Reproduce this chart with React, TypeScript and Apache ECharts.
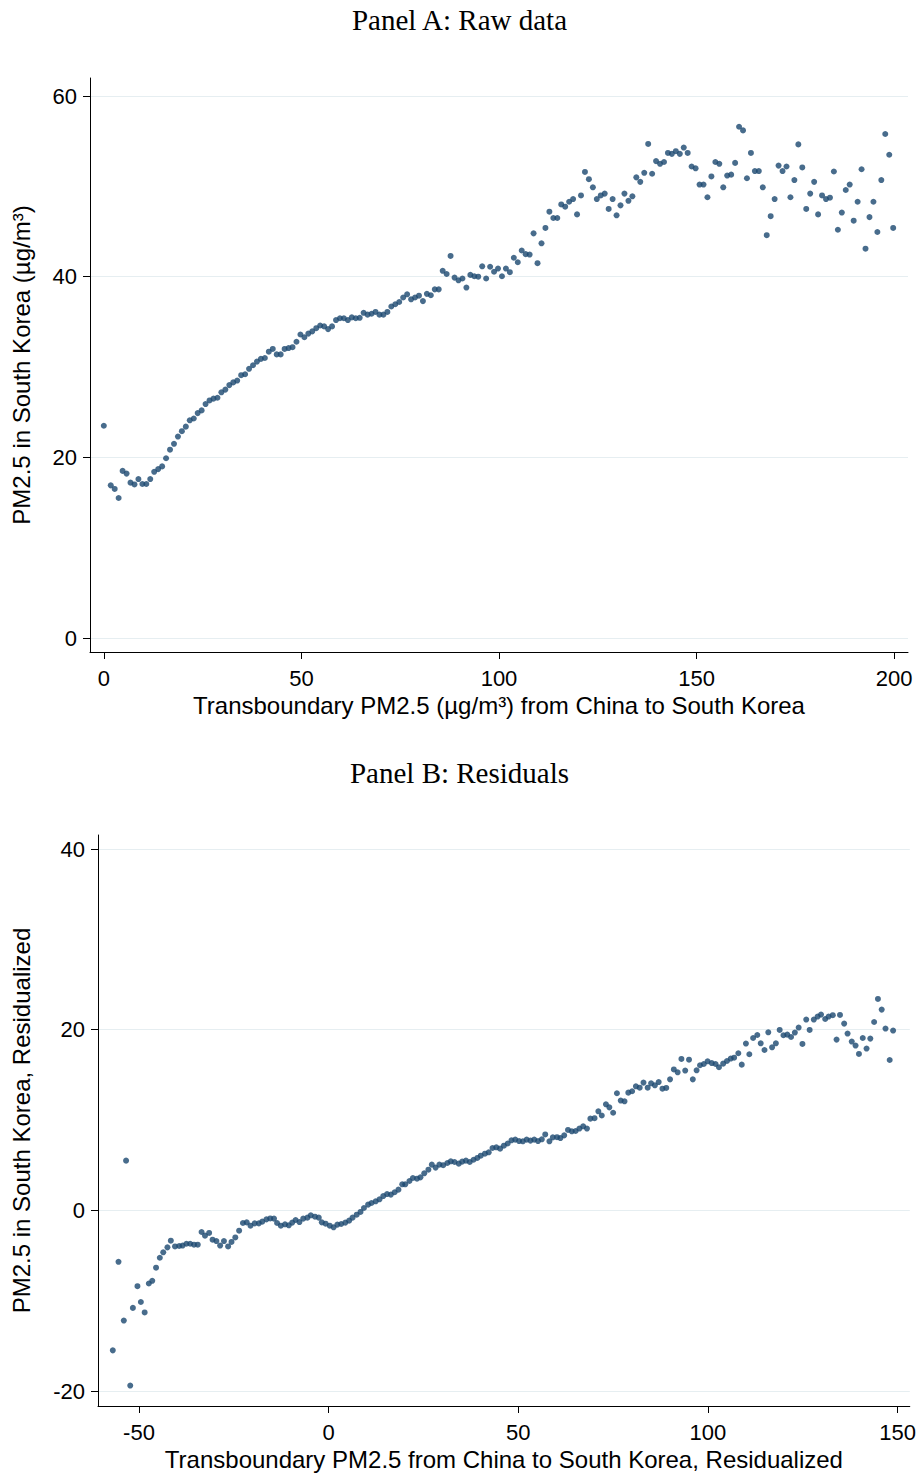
import React, { useEffect, useRef } from "react";
import * as echarts from "echarts";

// ---------- Panel A: raw data ----------
const panelAX = [
  0, 1.75, 2.75, 3.75, 4.75, 5.75, 6.75, 7.75, 8.75, 9.75, 10.75,
  11.75, 12.75, 13.75, 14.75, 15.75, 16.75, 17.75, 18.75, 19.75, 20.75,
  21.75, 22.75, 23.75, 24.75, 25.75, 26.75, 27.75, 28.75, 29.75, 30.75,
  31.75, 32.75, 33.75, 34.75, 35.75, 36.75, 37.75, 38.75, 39.75, 40.75,
  41.75, 42.75, 43.75, 44.75, 45.75, 46.75, 47.75, 48.75, 49.75, 50.75,
  51.75, 52.75, 53.75, 54.75, 55.75, 56.75, 57.75, 58.75, 59.75, 60.75,
  61.75, 62.75, 63.75, 64.75, 65.75, 66.75, 67.75, 68.75, 69.75, 70.75,
  71.75, 72.75, 73.75, 74.75, 75.75, 76.75, 77.75, 78.75, 79.75, 80.75,
  81.75, 82.75, 83.75, 84.75, 85.75, 86.75, 87.75, 88.75, 89.75, 90.75,
  91.75, 92.75, 93.75, 94.75, 95.75, 96.75, 97.75, 98.75, 99.75, 100.75,
  101.75, 102.75, 103.75, 104.75, 105.75, 106.75, 107.75, 108.75, 109.75, 110.75,
  111.75, 112.75, 113.75, 114.75, 115.75, 116.75, 117.75, 118.75, 119.75, 120.75,
  121.75, 122.75, 123.75, 124.75, 125.75, 126.75, 127.75, 128.75, 129.75, 130.75,
  131.75, 132.75, 133.75, 134.75, 135.75, 136.75, 137.75, 138.75, 139.75, 140.75,
  141.75, 142.75, 143.75, 144.75, 145.75, 146.75, 147.75, 148.75, 149.75, 150.75,
  151.75, 152.75, 153.75, 154.75, 155.75, 156.75, 157.75, 158.75, 159.75, 160.75,
  161.75, 162.75, 163.75, 164.75, 165.75, 166.75, 167.75, 168.75, 169.75, 170.75,
  171.75, 172.75, 173.75, 174.75, 175.75, 176.75, 177.75, 178.75, 179.75, 180.75,
  181.75, 182.75, 183.75, 184.75, 185.75, 186.75, 187.75, 188.75, 189.75, 190.75,
  191.75, 192.75, 193.75, 194.75, 195.75, 196.75, 197.75, 198.75, 199.75,
];
const panelAY = [
  23.5, 16.9, 16.5, 15.5, 18.5, 18.2, 17.2, 17.0, 17.6, 17.05, 17.05,
  17.6, 18.4, 18.7, 19.0, 19.9, 20.85, 21.5, 22.3, 22.9, 23.4,
  24.1, 24.3, 24.9, 25.2, 25.9, 26.3, 26.5, 26.6, 27.2, 27.5,
  28.0, 28.3, 28.5, 29.1, 29.2, 29.8, 30.2, 30.6, 30.9, 31.0,
  31.7, 32.0, 31.4, 31.4, 32.0, 32.1, 32.2, 32.8, 33.6, 33.3,
  33.7, 33.95, 34.3, 34.6, 34.5, 34.2, 34.5, 35.2, 35.4, 35.4,
  35.2, 35.5, 35.4, 35.45, 36.0, 35.8, 35.9, 36.1, 35.8, 35.8,
  36.1, 36.7, 36.95, 37.2, 37.7, 38.05, 37.5, 37.7, 37.9, 37.3,
  38.1, 37.95, 38.6, 38.6, 40.65, 40.3, 42.3, 39.9, 39.6, 39.8,
  38.8, 40.2, 40.05, 40.0, 41.15, 39.8, 41.1, 40.55, 40.9, 40.05,
  40.9, 40.5, 42.1, 41.6, 42.9, 42.5, 42.45, 44.8, 41.5, 43.7,
  45.4, 47.2, 46.5, 46.5, 48.0, 47.75, 48.3, 48.6, 46.9, 49.0,
  51.6, 50.8, 49.9, 48.6, 49.0, 49.2, 47.5, 48.6, 46.8, 47.9,
  49.2, 48.4, 48.9, 51.0, 50.5, 51.5, 54.7, 51.4, 52.8, 52.5,
  52.7, 53.7, 53.6, 53.9, 53.6, 54.3, 53.7, 52.2, 52.0, 50.2,
  50.2, 48.8, 51.1, 52.7, 52.5, 49.9, 51.2, 51.3, 52.6, 56.6,
  56.2, 50.9, 53.7, 51.7, 51.7, 49.9, 44.6, 46.7, 48.6, 52.3,
  51.7, 52.2, 48.8, 50.7, 54.65, 52.1, 47.5, 49.2, 50.5, 46.9,
  49.0, 48.6, 48.75, 51.65, 45.2, 47.1, 49.6, 50.2, 46.2, 48.3,
  51.9, 43.1, 46.6, 48.3, 44.95, 50.7, 55.8, 53.5, 45.4,
];
const panelAXTicks = [0, 50, 100, 150, 200];
const panelAYTicks = [0, 20, 40, 60];

// ---------- Panel B: residuals ----------
const panelBX = [
  -56.9, -55.4, -54.0, -53.4, -52.3, -51.6, -50.4, -49.5, -48.5, -47.4,
  -46.5, -45.5, -44.5, -43.6, -42.5, -41.6, -40.5, -39.4, -38.5, -37.5,
  -36.5, -35.5, -34.5, -33.5, -32.6, -31.5, -30.6, -29.6, -28.6, -27.6,
  -26.5, -25.6, -24.6, -23.6, -22.6, -21.6, -20.6, -19.5, -18.4, -17.5,
  -16.4, -15.4, -14.4, -13.6, -12.6, -11.5, -10.5, -9.6, -8.7, -7.7,
  -6.7, -5.6, -4.7, -3.6, -2.6, -1.8, -0.8, 0.3, 1.3, 2.3,
  3.3, 4.4, 5.4, 6.3, 7.4, 8.4, 9.3, 10.4, 11.3, 12.4,
  13.4, 14.4, 15.4, 16.4, 17.4, 18.4, 19.4, 20.2, 21.3, 22.2,
  23.3, 24.2, 25.2, 26.3, 27.2, 28.2, 29.2, 30.2, 31.3, 32.2,
  33.2, 34.3, 35.2, 36.2, 37.2, 38.2, 39.2, 40.1, 41.2, 42.2,
  43.2, 44.2, 45.2, 46.2, 47.2, 48.2, 49.2, 50.2, 51.2, 52.2,
  53.2, 54.2, 55.2, 56.2, 57.1, 58.2, 59.1, 60.2, 61.1, 62.1,
  63.1, 64.1, 65.1, 66.1, 67.1, 68.1, 69.0, 70.1, 71.1, 72.0,
  73.1, 74.0, 75.0, 76.0, 77.0, 78.0, 79.0, 80.0, 81.0, 82.0,
  83.0, 84.1, 85.0, 86.0, 87.0, 88.0, 89.0, 90.0, 91.0, 92.0,
  93.0, 94.0, 95.0, 96.0, 97.0, 97.9, 98.9, 99.9, 101.0, 102.0,
  102.9, 104.0, 105.0, 106.0, 106.9, 108.0, 108.9, 110.0, 110.9, 111.9,
  113.0, 113.9, 114.9, 115.9, 116.9, 117.9, 118.9, 119.9, 120.9, 121.9,
  122.9, 123.9, 124.9, 125.9, 126.8, 127.9, 128.9, 129.8, 130.9, 131.8,
  132.9, 133.9, 134.8, 135.9, 136.8, 137.9, 138.9, 139.8, 140.8, 141.8,
  142.8, 143.8, 144.8, 145.8, 146.8, 147.9, 148.8,
];
const panelBY = [
  -15.5, -5.7, -12.2, 5.5, -19.4, -10.8, -8.4, -10.15, -11.3, -8.1,
  -7.8, -6.35, -5.25, -4.65, -4.1, -3.36, -4.0, -3.95, -3.9, -3.7,
  -3.7, -3.8, -3.8, -2.4, -2.8, -2.5, -3.25, -3.4, -3.9, -3.4,
  -4.0, -3.5, -3.0, -2.25, -1.4, -1.33, -1.7, -1.44, -1.44, -1.25,
  -1.0, -0.9, -0.92, -1.4, -1.7, -1.55, -1.66, -1.36, -1.07, -1.3,
  -0.92, -0.81, -0.55, -0.7, -0.81, -1.33, -1.48, -1.7, -1.88, -1.58,
  -1.51, -1.36, -1.14, -0.81, -0.48, -0.18, 0.26, 0.63, 0.81, 1.0,
  1.22, 1.58, 1.8, 1.74, 2.0, 2.29, 2.88, 2.88, 3.25, 3.58,
  3.5, 3.65, 4.1, 4.5, 5.06, 4.73, 5.06, 5.0, 5.24, 5.43,
  5.35, 5.17, 5.39, 5.5, 5.35, 5.6, 5.8, 6.05, 6.27, 6.42,
  6.9, 6.98, 6.83, 7.16, 7.4, 7.75, 7.83, 7.67, 7.64, 7.83,
  7.72, 7.83, 7.67, 7.86, 8.4, 7.64, 8.08, 8.1, 8.0, 8.3,
  8.9, 8.75, 8.78, 9.05, 9.3, 9.05, 10.15, 10.2, 10.96, 10.5,
  11.74, 11.4, 10.8, 12.96, 12.15, 12.07, 13.03, 13.18, 13.73, 13.58,
  14.14, 13.58, 14.06, 13.84, 14.2, 13.47, 13.55, 14.5, 15.6, 15.28,
  16.76, 15.47, 16.68, 14.5, 15.5, 16.06, 16.2, 16.5, 16.3, 16.2,
  15.84, 16.24, 16.53, 16.8, 16.9, 17.39, 16.13, 18.46, 17.28, 19.08,
  19.41, 18.49, 17.75, 19.71, 18.05, 18.49, 19.97, 19.38, 19.45, 19.19,
  19.68, 20.23, 18.42, 21.12, 19.97, 21.12, 21.45, 21.67, 21.18, 21.45,
  21.6, 18.9, 21.63, 20.67, 19.57, 18.68, 18.24, 17.31, 19.08, 17.91,
  19.01, 20.85, 23.4, 22.22, 20.12, 16.64, 19.9,
];
const panelBXTicks = [-50, 0, 50, 100, 150];
const panelBYTicks = [-20, 0, 20, 40];

const titleA = "Panel A: Raw data";
const titleB = "Panel B: Residuals";
const xNameA = "Transboundary PM2.5 (µg/m³) from China to South Korea";
const yNameA = "PM2.5 in South Korea (µg/m³)";
const xNameB = "Transboundary PM2.5 from China to South Korea, Residualized";
const yNameB = "PM2.5 in South Korea, Residualized";

const DOT = "#1a476f";
const SANS = "'Liberation Sans', Arial, Helvetica, sans-serif";
const SERIF = "'Liberation Serif', 'Times New Roman', serif";
const GRIDCOL = "#e6eef1";

function pairs(xs: number[], ys: number[]) {
  return xs.map((x, i) => [x, ys[i]]);
}

function makeX(gridIndex: number, min: number, max: number, ticks: number[], name: string) {
  return {
    type: "value",
    gridIndex,
    min,
    max,
    name,
    nameLocation: "middle",
    nameGap: 41,
    nameTextStyle: { fontFamily: SANS, fontSize: 24, color: "#000" },
    axisLine: { show: true, onZero: false, lineStyle: { color: "#000", width: 1 } },
    axisTick: { show: true, length: 7, customValues: ticks, lineStyle: { color: "#000" } },
    axisLabel: { customValues: ticks, fontFamily: SANS, fontSize: 22, color: "#000", margin: 15 },
    splitLine: { show: false },
  };
}

function makeY(gridIndex: number, min: number, max: number, ticks: number[], name: string, nameGap: number) {
  return {
    type: "value",
    gridIndex,
    min,
    max,
    name,
    nameLocation: "middle",
    nameRotate: 90,
    nameGap,
    nameTextStyle: { fontFamily: SANS, fontSize: 24, color: "#000" },
    axisLine: { show: true, onZero: false, lineStyle: { color: "#000", width: 1 } },
    axisTick: { show: true, length: 7, customValues: ticks, lineStyle: { color: "#000" } },
    axisLabel: { customValues: ticks, fontFamily: SANS, fontSize: 22, color: "#000", margin: 13 },
    splitLine: { show: true, lineStyle: { color: GRIDCOL, width: 1 } },
  };
}

export default function App() {
  const ref = useRef<HTMLDivElement>(null);
  useEffect(() => {
    if (!ref.current) return;
    const chart = echarts.init(ref.current, null, { renderer: "svg" });
    chart.setOption({
      animation: false,
      backgroundColor: "#fff",
      title: [
        { text: titleA, left: "center", top: 5, padding: 0, textStyle: { fontFamily: SERIF, fontSize: 29, fontWeight: "normal", color: "#000" } },
        { text: titleB, left: "center", top: 758, padding: 0, textStyle: { fontFamily: SERIF, fontSize: 29, fontWeight: "normal", color: "#000" } },
      ],
      grid: [
        { left: 90, right: 11, top: 78, height: 574, containLabel: false },
        { left: 98, right: 9, top: 835, height: 571, containLabel: false },
      ],
      xAxis: [
        makeX(0, -3.5, 203.5, panelAXTicks, xNameA),
        makeX(1, -60.8, 153.2, panelBXTicks, xNameB),
      ],
      yAxis: [
        makeY(0, -1.55, 62.0, panelAYTicks, yNameA, 57),
        makeY(1, -21.66, 41.55, panelBYTicks, yNameB, 65),
      ],
      series: [
        {
          type: "scatter",
          xAxisIndex: 0,
          yAxisIndex: 0,
          data: pairs(panelAX, panelAY),
          symbol: "circle",
          symbolSize: 6,
          itemStyle: { color: DOT },
        },
        {
          type: "scatter",
          xAxisIndex: 1,
          yAxisIndex: 1,
          data: pairs(panelBX, panelBY),
          symbol: "circle",
          symbolSize: 6,
          itemStyle: { color: DOT },
        },
      ],
    });
    return () => chart.dispose();
  }, []);
  return (
    <div
      ref={ref}
      style={{ position: "absolute", left: 0, top: 0, width: 919, height: 1473, background: "#fff" }}
    />
  );
}
